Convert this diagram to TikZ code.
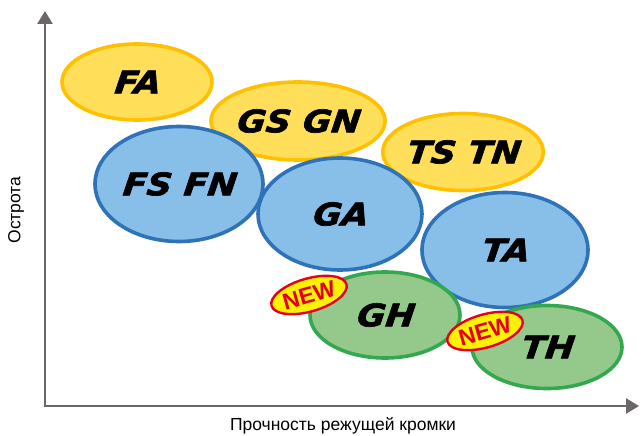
\documentclass[tikz,border=0pt]{standalone}
\usepackage{fontspec}
\setmainfont{Liberation Sans}
\newfontfamily\gradefont{DejaVu Sans}[FakeStretch=1.12,BoldItalicFeatures={FakeBold=2.2,FakeSlant=0.12}]
\usepackage{tikz}
\usetikzlibrary{arrows.meta,shapes.geometric}
\definecolor{fillY}{HTML}{FFDF5A}
\definecolor{lineY}{HTML}{FFC000}
\definecolor{fillB}{HTML}{88BFE9}
\definecolor{lineB}{HTML}{2E72B8}
\definecolor{fillG}{HTML}{95C98B}
\definecolor{lineG}{HTML}{34A84E}
\definecolor{newR}{HTML}{E3001B}
\definecolor{newY}{HTML}{FFF200}
\definecolor{axisgray}{HTML}{6B6767}

\begin{document}
\begin{tikzpicture}[x=1pt,y=-1pt,
  grade/.style={ellipse,draw,line width=3.6pt,inner sep=0pt,
    font=\gradefont\bfseries\itshape\fontsize{31}{31}\selectfont},
  yel/.style={grade,fill=fillY,draw=lineY},
  blu/.style={grade,fill=fillB,draw=lineB},
  grn/.style={grade,fill=fillG,draw=lineG},
  newtag/.style={ellipse,draw=newR,fill=newY,line width=2.4pt,inner sep=0pt,
    minimum width=78pt,minimum height=33pt,rotate=16,text=newR,
    font=\bfseries\fontsize{23}{23}\selectfont}]
  \useasboundingbox (0,0) rectangle (641,436);
  % axes
  \coordinate (ytop) at (45,11);
  \coordinate (xend) at (639,406);
  \draw[axisgray,line width=2.6pt,{Triangle[length=13pt,width=15pt]}-{Triangle[length=13pt,width=15pt]}]
    (ytop) |- (xend);
  \node[rotate=90,font=\fontsize{17.5}{17.5}\selectfont] (sharp) at (16,210) {Острота};
  \node[font=\fontsize{17.5}{17.5}\selectfont] (edge) at (343,426) {Прочность режущей кромки};
  % grades
  \node[yel,minimum width=150pt,minimum height=76pt] (FA) at (137,82) {FA};
  \node[yel,minimum width=147pt,minimum height=78pt] (GS) at (298,121) {GS GN};
  \node[yel,minimum width=150pt,minimum height=77pt] (TS) at (463,152) {TS TN};
  \node[blu,minimum width=168pt,minimum height=115pt] (FS) at (179,184) {FS FN};
  \node[blu,minimum width=164pt,minimum height=112pt] (GA) at (340,214) {GA};
  \node[blu,minimum width=166pt,minimum height=115pt] (TA) at (505,250) {TA};
  \node[grn,minimum width=150pt,minimum height=86pt] (GH) at (385,315) {GH};
  \node[grn,minimum width=150pt,minimum height=83pt] (TH) at (547,347) {TH};
  \node[newtag] (newGH) at (309,295) {NEW};
  \node[newtag] (newTH) at (485,331) {NEW};
\end{tikzpicture}
\end{document}
